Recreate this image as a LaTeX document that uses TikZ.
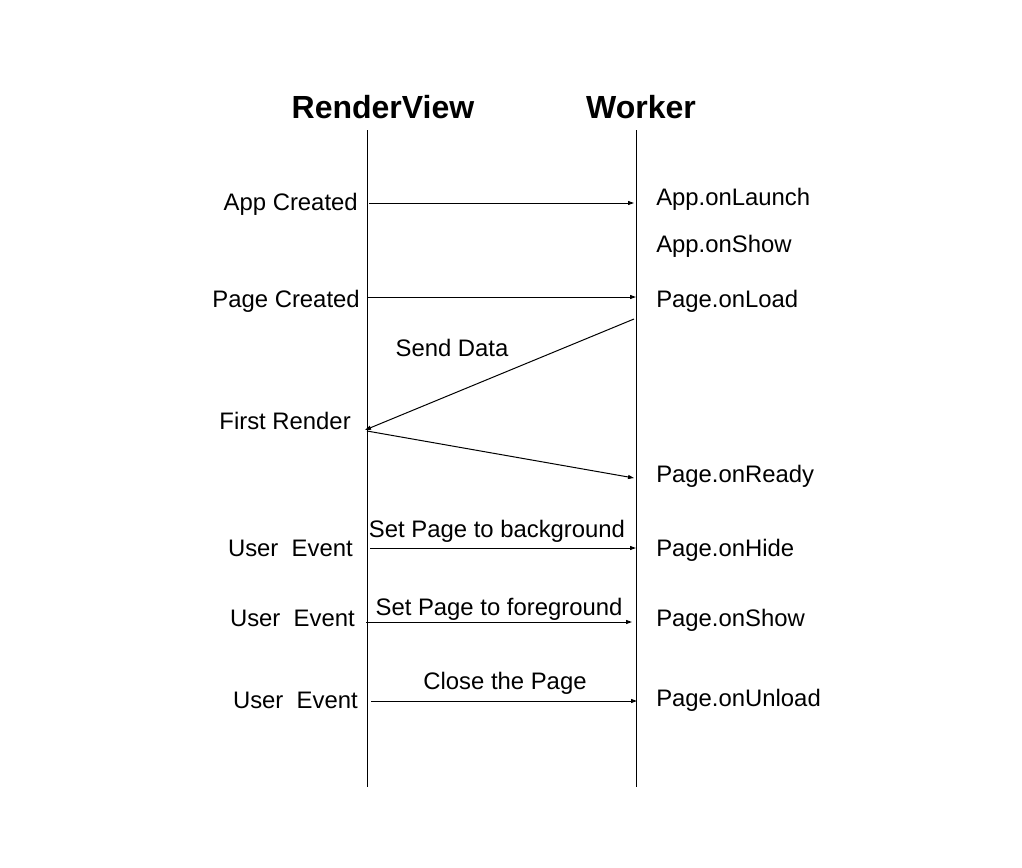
\documentclass[tikz,border=0pt]{standalone}
\usepackage{fontspec}
\setmainfont{Liberation Sans}
\usetikzlibrary{arrows.meta}
\begin{document}
\begin{tikzpicture}[x=0.75pt,y=-0.75pt,
  lifeline/.style={line width=0.75pt},
  msg/.style={line width=0.75pt,-{Triangle[length=4.5pt,width=3pt]}},
  title/.style={font=\bfseries\fontsize{24}{29}\selectfont,inner sep=0pt,anchor=base},
  lbl/.style={font=\fontsize{17.9}{21}\selectfont,inner sep=0pt},
  lleft/.style={lbl,anchor=base east},
  lright/.style={lbl,anchor=base west},
  lmid/.style={lbl,anchor=base}]
\useasboundingbox (0,0) rectangle (1022,868);

% column titles
\node[title] (rv) at (383,118) {RenderView};
\node[title] (wk) at (641,118) {Worker};

% lifelines
\coordinate (rvtop) at (367,130);
\coordinate (rvbot) at (367,787);
\coordinate (wktop) at (636,130);
\coordinate (wkbot) at (636,787);
\draw[lifeline] (rvtop) -- (rvbot);
\draw[lifeline] (wktop) -- (wkbot);

% message end points
\coordinate (a1) at (369,203);   \coordinate (b1) at (634,203);
\coordinate (a2) at (367,297);   \coordinate (b2) at (636,297);
\coordinate (b3) at (634,319);   \coordinate (a3) at (365,430);
\coordinate (a4) at (367,431);   \coordinate (b4) at (634,478);
\coordinate (a5) at (370,548);   \coordinate (b5) at (636,548);
\coordinate (a6) at (366,622);   \coordinate (b6) at (632,622);
\coordinate (a7) at (371,701);   \coordinate (b7) at (637,701);

\draw[msg] (a1) -- (b1);
\draw[msg] (a2) -- (b2);
\draw[msg] (b3) -- (a3);
\draw[msg] (a4) -- (b4);
\draw[msg] (a5) -- (b5);
\draw[msg] (a6) -- (b6);
\draw[msg] (a7) -- (b7);

% RenderView side labels
\node[lleft] (l1) at (358,210) {App Created};
\node[lleft] (l2) at (360,307) {Page Created};
\node[lleft] (l3) at (351,429) {First Render};
\node[lleft] (l4) at (353,556) {User\ \ Event};
\node[lleft] (l5) at (355,626) {User\ \ Event};
\node[lleft] (l6) at (358,708) {User\ \ Event};

% Worker side labels
\node[lright] (r1) at (656,205) {App.onLaunch};
\node[lright] (r2) at (656,252) {App.onShow};
\node[lright] (r3) at (656,307) {Page.onLoad};
\node[lright] (r4) at (656,482) {Page.onReady};
\node[lright] (r5) at (656,556) {Page.onHide};
\node[lright] (r6) at (656,626) {Page.onShow};
\node[lright] (r7) at (656,706) {Page.onUnload};

% message labels
\node[lmid] (m1) at (452,356) {Send Data};
\node[lmid] (m2) at (497,537) {Set Page to background};
\node[lmid] (m3) at (499,615) {Set Page to foreground};
\node[lmid] (m4) at (505,689) {Close the Page};
\end{tikzpicture}
\end{document}
